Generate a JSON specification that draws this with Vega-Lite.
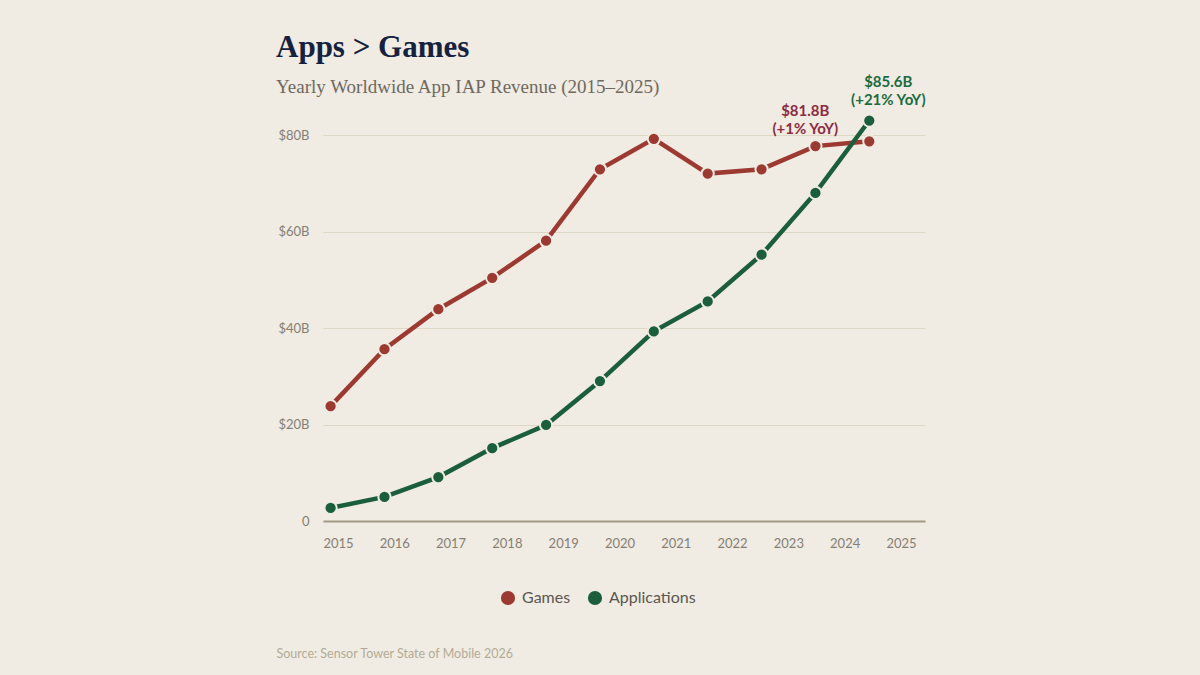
{
  "$schema": "https://vega.github.io/schema/vega-lite/v6.json",
  "width": 602,
  "height": 386,
  "autosize": "none",
  "padding": {"left": 323, "top": 135, "right": 275, "bottom": 154},
  "background": "#f0ebe3",
  "title": {
    "text": "Apps > Games",
    "subtitle": "Yearly Worldwide App IAP Revenue (2015–2025)",
    "anchor": "start",
    "frame": "bounds",
    "font": "Liberation Serif",
    "fontSize": 31,
    "fontWeight": "bold",
    "color": "#15223f",
    "subtitleFont": "Liberation Serif",
    "subtitleFontSize": 19,
    "subtitleColor": "#6e695f",
    "subtitlePadding": 14,
    "offset": -23
  },
  "config": {
    "view": {"stroke": null},
    "font": "Lato"
  },
  "datasets": {
    "years": [
      {"year": 2015}, {"year": 2016}, {"year": 2017}, {"year": 2018}, {"year": 2019}, {"year": 2020},
      {"year": 2021}, {"year": 2022}, {"year": 2023}, {"year": 2024}, {"year": 2025}
    ],
    "revenue": [
      {"year": 2015, "series": "Games", "revenue": 23.8},
      {"year": 2016, "series": "Games", "revenue": 35.6},
      {"year": 2017, "series": "Games", "revenue": 43.9},
      {"year": 2018, "series": "Games", "revenue": 50.4},
      {"year": 2019, "series": "Games", "revenue": 58.1},
      {"year": 2020, "series": "Games", "revenue": 72.9},
      {"year": 2021, "series": "Games", "revenue": 79.2},
      {"year": 2022, "series": "Games", "revenue": 72.0},
      {"year": 2023, "series": "Games", "revenue": 72.9},
      {"year": 2024, "series": "Games", "revenue": 77.7},
      {"year": 2025, "series": "Games", "revenue": 78.7},
      {"year": 2015, "series": "Applications", "revenue": 2.7},
      {"year": 2016, "series": "Applications", "revenue": 5.0},
      {"year": 2017, "series": "Applications", "revenue": 9.1},
      {"year": 2018, "series": "Applications", "revenue": 15.1},
      {"year": 2019, "series": "Applications", "revenue": 19.9},
      {"year": 2020, "series": "Applications", "revenue": 29.0},
      {"year": 2021, "series": "Applications", "revenue": 39.3},
      {"year": 2022, "series": "Applications", "revenue": 45.5},
      {"year": 2023, "series": "Applications", "revenue": 55.2},
      {"year": 2024, "series": "Applications", "revenue": 68.0},
      {"year": 2025, "series": "Applications", "revenue": 83.0}
    ],
    "notes": [
      {"year": 2025, "series": "Games", "revenue": 78.7, "note": ["$81.8B", "(+1% YoY)"]},
      {"year": 2025, "series": "Applications", "revenue": 83.0, "note": ["$85.6B", "(+21% YoY)"]}
    ]
  },
  "layer": [
    {
      "data": {"name": "years"},
      "mark": {"type": "rule", "strokeOpacity": 0},
      "encoding": {
        "x": {
          "field": "year",
          "type": "quantitative",
          "scale": {"domain": [2014.734, 2025.427], "nice": false, "zero": false},
          "axis": {
            "orient": "bottom",
            "values": [2015, 2016, 2017, 2018, 2019, 2020, 2021, 2022, 2023, 2024, 2025],
            "format": "d",
            "labelFont": "Lato",
            "labelFontSize": 13,
            "labelColor": "#857f73",
            "labelPadding": 16,
            "ticks": false,
            "grid": false,
            "domain": true,
            "domainColor": "#a39a86",
            "domainWidth": 2,
            "title": "Source: Sensor Tower State of Mobile 2026",
            "titleFont": "Lato",
            "titleFontSize": 12.5,
            "titleFontWeight": "normal",
            "titleColor": "#b3ab95",
            "titleAnchor": "start",
            "titleAlign": "left",
            "titleBaseline": "middle",
            "titleX": -47,
            "titleY": 132
          }
        }
      }
    },
    {
      "data": {"name": "revenue"},
      "encoding": {
        "x": {
          "field": "year",
          "type": "quantitative",
          "scale": {"domain": [2014.859, 2026.034], "nice": false, "zero": false},
          "axis": null
        },
        "y": {
          "field": "revenue",
          "type": "quantitative",
          "scale": {"domain": [0, 80], "nice": false},
          "axis": {
            "values": [0, 20, 40, 60, 80],
            "labelExpr": "datum.value == 0 ? '0' : '$' + datum.value + 'B'",
            "labelFont": "Lato",
            "labelFontSize": 13,
            "labelColor": "#857f73",
            "labelPadding": 14,
            "grid": true,
            "gridColor": "#ddd7c4",
            "gridWidth": 1,
            "domain": false,
            "ticks": false,
            "title": null
          }
        },
        "color": {
          "field": "series",
          "type": "nominal",
          "scale": {"domain": ["Games", "Applications"], "range": ["#9c3a32", "#1b5e3b"]},
          "legend": {
            "title": null,
            "orient": "none",
            "direction": "horizontal",
            "legendX": 177,
            "legendY": 455,
            "symbolType": "circle",
            "symbolSize": 200,
            "symbolStrokeWidth": 0,
            "labelFont": "Lato",
            "labelFontSize": 16,
            "labelColor": "#5b574f",
            "labelOffset": 6,
            "columnPadding": 16
          }
        }
      },
      "layer": [
        {"mark": {"type": "line", "strokeWidth": 4.5}},
        {"mark": {"type": "point", "filled": true, "opacity": 1, "size": 150, "stroke": "#f0ebe3", "strokeWidth": 2}},
        {
          "data": {"name": "notes"},
          "transform": [{"filter": "datum.series == 'Games'"}],
          "mark": {"type": "text", "font": "Lato", "fontSize": 15, "fontWeight": "bold", "align": "center", "baseline": "middle", "lineHeight": 18, "dx": -64, "dy": -30},
          "encoding": {"text": {"field": "note"}, "color": {"value": "#8c2b41"}}
        },
        {
          "data": {"name": "notes"},
          "transform": [{"filter": "datum.series == 'Applications'"}],
          "mark": {"type": "text", "font": "Lato", "fontSize": 15, "fontWeight": "bold", "align": "center", "baseline": "middle", "lineHeight": 18, "dx": 19, "dy": -39},
          "encoding": {"text": {"field": "note"}, "color": {"value": "#1b6b40"}}
        }
      ]
    }
  ],
  "resolve": {"scale": {"x": "independent"}, "axis": {"x": "independent"}}
}
